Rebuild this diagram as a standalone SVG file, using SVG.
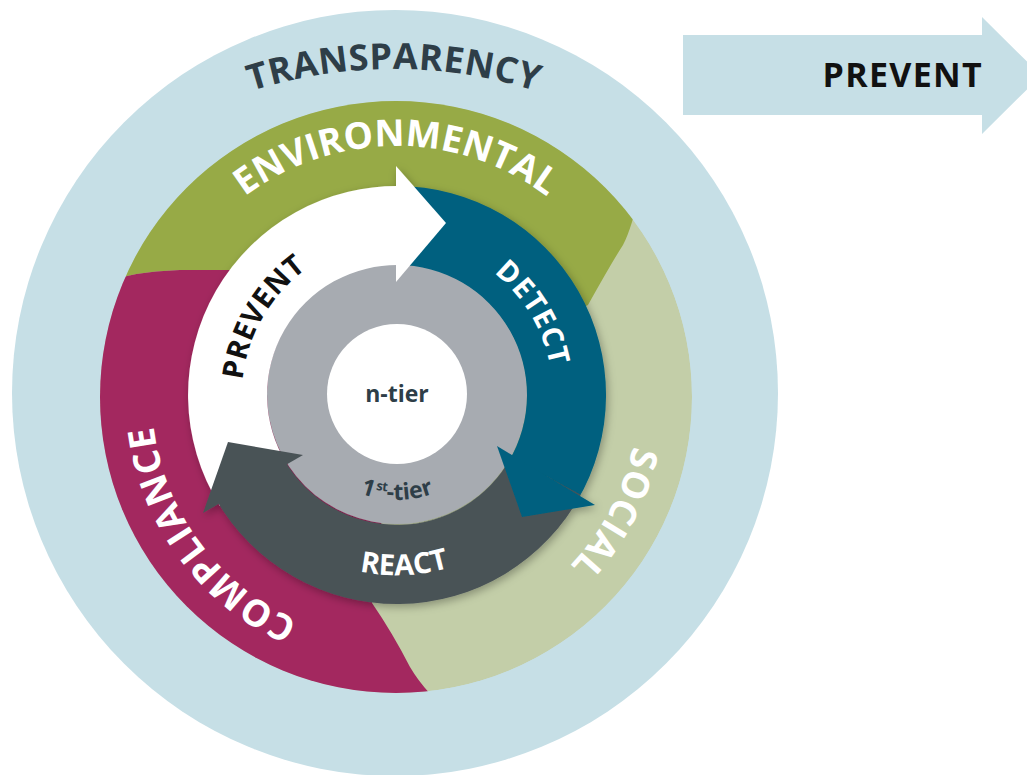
<svg xmlns="http://www.w3.org/2000/svg" width="1027" height="775" viewBox="0 0 1027 775">
  <defs>
    <style>
      .t { font-family: "Open Sans", "Noto Sans", "DejaVu Sans", sans-serif; font-weight: 700; }
      .ring { font-size: 37px; fill: #ffffff; }
      .cyc { font-size: 29px; }
    </style>
    <clipPath id="midClip"><circle cx="396" cy="397" r="296"/></clipPath>
    <filter id="shadow" x="-20%" y="-20%" width="140%" height="140%">
      <feDropShadow dx="2" dy="3" stdDeviation="4" flood-color="#000000" flood-opacity="0.3"/>
    </filter>
    <path id="pTrans" d="M -13.9,304.5 A 471 471 0 0 1 801.9,304.5"/>
    <path id="pEnv" d="M 145,397 A 251 251 0 0 1 647,397"/>
    <path id="pSoc" d="M 509.6,183.3 A 242 242 0 0 1 282.4,610.7"/>
    <path id="pComp" d="M 541.1,593.2 A 244 244 0 0 1 250.9,200.8"/>
    <path id="pDet" d="M 315.6,259.6 A 158 158 0 0 1 478.4,530.4"/>
    <path id="pPrev" d="M 318,531.8 A 158 158 0 0 1 476,258.2"/>
    <path id="pReact" d="M 213.2,402.7 A 184 184 0 0 0 580.8,387.3"/>
    <path id="pTier" d="M 292,395 A 105 105 0 0 0 502,395"/>
  </defs>

  <g id="transparency">
    <circle cx="395" cy="393" r="383" fill="#c6dfe6"/>
    <text class="t" font-size="36" letter-spacing="0.5" fill="#2e3e48"><textPath href="#pTrans" startOffset="50%" text-anchor="middle">TRANSPARENCY</textPath></text>
  </g>

  <g id="prevent-arrow">
    <polygon points="683,35 982,35 982,17 1041,75.5 982,134 982,115 683,115" fill="#c6dfe6"/>
    <text class="t" x="983" y="87" font-size="34" letter-spacing="1.3" text-anchor="end" fill="#111111">PREVENT</text>
  </g>

  <g id="dimensions" clip-path="url(#midClip)">
    <g id="social">
      <circle cx="396" cy="397" r="296" fill="#c3cea8"/>
    </g>
    <g id="environmental">
      <path d="M 60,285 L 110,282 Q 128,272 180,270 L 300,270 L 396,397 L 588,305 Q 612,262 623,245 Q 632,228 640,190 L 700,150 L 700,60 L 60,60 Z" fill="#97aa46"/>
    </g>
    <g id="compliance">
      <path d="M 60,285 L 110,282 Q 128,272 180,270 L 300,270 L 396,397 L 372,603 Q 392,632 410,667 Q 420,684 436,700 L 436,740 L 60,740 Z" fill="#a3285f"/>
    </g>
  </g>
  <g id="dimension-labels">
    <text class="t ring"><textPath href="#pEnv" startOffset="50%" text-anchor="middle">ENVIRONMENTAL</textPath></text>
    <text class="t ring" font-size="36" letter-spacing="1"><textPath href="#pSoc" startOffset="50%" text-anchor="middle">SOCIAL</textPath></text>
    <text class="t ring" font-size="36" letter-spacing="1"><textPath href="#pComp" startOffset="50%" text-anchor="middle">COMPLIANCE</textPath></text>
  </g>

  <g id="cycle" filter="url(#shadow)">
    <circle id="first-tier-ring" cx="397" cy="394" r="130" fill="#a7abb1"/>
    <g id="connectors">
      <path id="body-prevent" d="M 219.8,505.7 A 209 209 0 0 1 404.3,186.1 L 401.5,265.1 A 130 130 0 0 0 286.8,463.9 Z" fill="#ffffff"/>
      <path id="body-detect" d="M 397,186 A 209 209 0 0 1 577.1,501.1 L 509,461 A 130 130 0 0 0 397,265 Z" fill="#00617f"/>
      <path id="body-react" d="M 580.7,494.7 A 209 209 0 0 1 216,499.5 L 284.4,460 A 130 130 0 0 0 511.2,457 Z" fill="#4a5357"/>
      <polygon id="head-prevent" points="396,166 446,223 396,282" fill="#ffffff"/>
      <polygon id="head-detect" points="497,446 522,517 595,505" fill="#00617f"/>
      <polygon id="head-react" points="303,455 228,442 203,513" fill="#4a5357"/>
    </g>
  </g>

  <g id="prevent">
    <text class="t cyc" fill="#111111" letter-spacing="0.5"><textPath href="#pPrev" startOffset="50%" text-anchor="middle">PREVENT</textPath></text>
  </g>
  <g id="detect">
    <text class="t cyc" fill="#ffffff" letter-spacing="1"><textPath href="#pDet" startOffset="50%" text-anchor="middle">DETECT</textPath></text>
  </g>
  <g id="react">
    <text class="t cyc" fill="#ffffff"><textPath href="#pReact" startOffset="50%" text-anchor="middle">REACT</textPath></text>
  </g>
  <g id="first-tier">
    <text class="t" font-size="23" font-weight="600" fill="#2e3e48"><textPath href="#pTier" startOffset="50%" text-anchor="middle">1<tspan font-size="13" dx="1.5" dy="-8">st</tspan><tspan dy="8">-tier</tspan></textPath></text>
  </g>
  <g id="n-tier">
    <circle cx="397" cy="394" r="70" fill="#ffffff"/>
    <text class="t" x="397" y="402" font-size="23" text-anchor="middle" fill="#2e3e48">n-tier</text>
  </g>
</svg>
